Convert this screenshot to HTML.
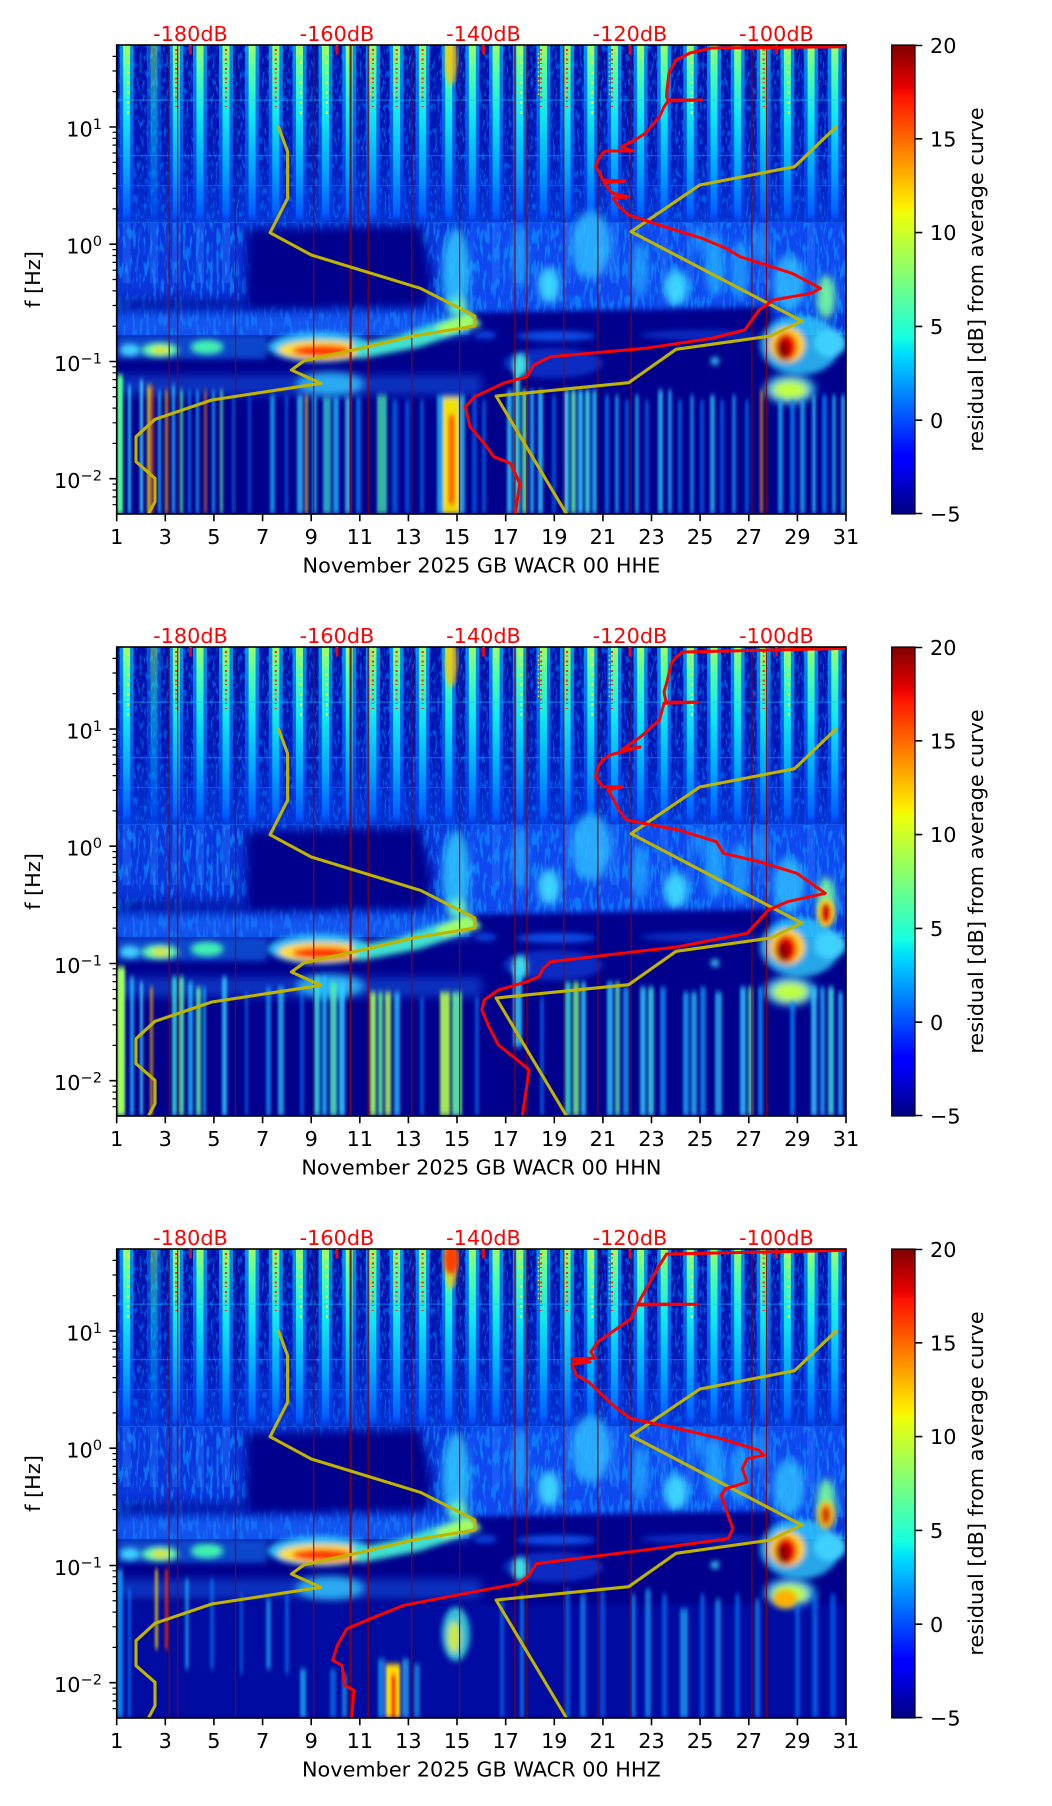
<!DOCTYPE html>
<html><head><meta charset="utf-8"><style>
html,body{margin:0;padding:0;background:#fff;}
svg{display:block;}
text{font-family:"DejaVu Sans","Liberation Sans",sans-serif;font-size:20.8px;fill:#000;}
.r{fill:#ff0000;}
</style></head><body>
<svg xmlns="http://www.w3.org/2000/svg" xmlns:xlink="http://www.w3.org/1999/xlink" width="1052" height="1806" viewBox="0 0 1052 1806">
<defs>
<clipPath id="cp"><rect x="116.7" y="0" width="729.3" height="469"/></clipPath>
<filter id="nz" x="0" y="0" width="100%" height="100%" color-interpolation-filters="sRGB">
<feTurbulence type="fractalNoise" baseFrequency="0.45 0.12" numOctaves="2" seed="5"/>
<feColorMatrix type="matrix" values="0 0 0 0 0  0 0 0 0 0.5  0 0 0 0 1  6 0 0 0 -3.1"/>
<feComposite in2="SourceAlpha" operator="in"/>
</filter>
<filter id="nz2" x="0" y="0" width="100%" height="100%" color-interpolation-filters="sRGB">
<feTurbulence type="fractalNoise" baseFrequency="0.3 0.06" numOctaves="2" seed="11"/>
<feColorMatrix type="matrix" values="0 0 0 0 0.05  0 0 0 0 0.6  0 0 0 0 1  6 0 0 0 -3.0"/>
<feComposite in2="SourceAlpha" operator="in"/>
</filter>
<filter id="b2" x="-50%" y="-50%" width="200%" height="200%"><feGaussianBlur stdDeviation="2"/></filter>
<filter id="b3" x="-50%" y="-50%" width="200%" height="200%"><feGaussianBlur stdDeviation="3"/></filter>
<filter id="b4" x="-50%" y="-50%" width="200%" height="200%"><feGaussianBlur stdDeviation="4"/></filter>
<filter id="b5" x="-50%" y="-50%" width="200%" height="200%"><feGaussianBlur stdDeviation="5"/></filter>
<filter id="b7" x="-50%" y="-50%" width="200%" height="200%"><feGaussianBlur stdDeviation="7"/></filter>
<filter id="bh" x="-5%" y="-5%" width="110%" height="110%"><feGaussianBlur stdDeviation="1.2 3"/></filter>
<linearGradient id="gU" x1="0" y1="0" x2="0" y2="1">
<stop offset="0" stop-color="#0010a8"/><stop offset="0.6" stop-color="#0018b8"/><stop offset="1" stop-color="#0634d4"/>
</linearGradient>
<linearGradient id="gE" x1="0" y1="0" x2="0" y2="1">
<stop offset="0" stop-color="#00b4ff"/><stop offset="0.45" stop-color="#0070ff"/><stop offset="0.85" stop-color="#0040f0"/><stop offset="1" stop-color="#0038e0" stop-opacity="0.4"/>
</linearGradient>
<linearGradient id="gC" x1="0" y1="0" x2="0" y2="1">
<stop offset="0" stop-color="#a0ff60"/><stop offset="0.15" stop-color="#50ffa8"/><stop offset="0.4" stop-color="#10e8f0"/><stop offset="0.7" stop-color="#00a8ff"/><stop offset="0.95" stop-color="#0060ff"/><stop offset="1" stop-color="#0050ff" stop-opacity="0.3"/>
</linearGradient>
<linearGradient id="jet" x1="0" y1="1" x2="0" y2="0">
<stop offset="0" stop-color="#000080"/><stop offset="0.11" stop-color="#0000ff"/><stop offset="0.125" stop-color="#0000ff"/><stop offset="0.34" stop-color="#00dbff"/><stop offset="0.35" stop-color="#00e5f7"/><stop offset="0.375" stop-color="#14ffe2"/><stop offset="0.5" stop-color="#7bff7b"/><stop offset="0.64" stop-color="#eeff08"/><stop offset="0.66" stop-color="#ffec00"/><stop offset="0.89" stop-color="#ff1300"/><stop offset="0.91" stop-color="#e80000"/><stop offset="1" stop-color="#800000"/>
</linearGradient>
<g id="s"><rect x="-7" y="0" width="14" height="178" fill="url(#gE)" opacity=".8"/><rect x="-3.5" y="0" width="7" height="176" fill="url(#gC)"/></g>
<g id="sr"><line x1="0" y1="4" x2="0" y2="62" stroke="#ff2a00" stroke-width="2.2" stroke-dasharray="2 2.5 1 4"/><line x1="-2.5" y1="8" x2="-2.5" y2="50" stroke="#ffd000" stroke-width="1.5" stroke-dasharray="1.5 3"/></g>
<g id="sy"><line x1="1.5" y1="6" x2="1.5" y2="70" stroke="#f0f020" stroke-width="2" stroke-dasharray="3 3 1 3"/></g>
<rect id="m" x="-4" y="178" width="8" height="60" fill="#2a80ff" opacity=".35"/>
<g id="base">
<rect x="116.7" y="0" width="729.3" height="469" fill="#00008c"/>
<rect x="116.7" y="0" width="729.3" height="180" fill="url(#gU)"/>
<rect x="116.7" y="0" width="729.3" height="180" fill="#000" filter="url(#nz)" opacity=".55"/>
<use href="#s" x="126.6"/><use href="#s" x="154" opacity=".5"/><use href="#s" x="176.3"/><use href="#s" x="200"/><use href="#s" x="226"/><use href="#s" x="252.1"/><use href="#s" x="275.8"/><use href="#s" x="299.5"/><use href="#s" x="325.5"/><use href="#s" x="349.2"/><use href="#s" x="372.9"/><use href="#s" x="396.6"/><use href="#s" x="422.6"/><use href="#s" x="448.7"/><use href="#s" x="472.4"/><use href="#s" x="496.1"/><use href="#s" x="519.8"/><use href="#s" x="543.5"/><use href="#s" x="567.1"/><use href="#s" x="590.8"/><use href="#s" x="614.5"/><use href="#s" x="640.6"/><use href="#s" x="664.2"/><use href="#s" x="690.3"/><use href="#s" x="714"/><use href="#s" x="737.7"/><use href="#s" x="763.7"/><use href="#s" x="787.4"/><use href="#s" x="811.1"/><use href="#s" x="834.8"/>
<use href="#sr" x="176.3"/><use href="#sr" x="226"/><use href="#sr" x="275.8"/><use href="#sr" x="372.9"/><use href="#sr" x="396.6"/><use href="#sr" x="422.6"/><use href="#sr" x="541"/><use href="#sr" x="567"/><use href="#sr" x="612"/><use href="#sr" x="763.7"/>
<use href="#sy" x="126.6"/><use href="#sy" x="299.5"/><use href="#sy" x="325.5"/><use href="#sy" x="519.8"/><use href="#sy" x="590.8"/><use href="#sy" x="690.3"/><use href="#sy" x="787.4"/>
<ellipse cx="451" cy="16" rx="6" ry="24" fill="#ffc000" opacity=".8" filter="url(#b2)"/>
<rect x="116.7" y="54.5" width="729.3" height="1.3" fill="#20c0ff" opacity=".45"/>
<rect x="116.7" y="110" width="729.3" height="1.3" fill="#20a0ff" opacity=".45"/>
<rect x="116.7" y="140" width="729.3" height="1.2" fill="#2090ff" opacity=".35"/>
<rect x="116.7" y="177" width="729.3" height="1.5" fill="#2080ff" opacity=".4"/>
<!-- mid region -->
<rect x="116.7" y="178" width="729.3" height="112" fill="#0a36dc"/>
<rect x="470" y="178" width="376" height="90" fill="#1048f0"/>
<rect x="116.7" y="178" width="729.3" height="112" fill="#000" filter="url(#nz2)" opacity=".6"/>
<use href="#m" x="126.6"/><use href="#m" x="154"/><use href="#m" x="176.3"/><use href="#m" x="200"/><use href="#m" x="226"/><use href="#m" x="496.1"/><use href="#m" x="519.8"/><use href="#m" x="567.1"/><use href="#m" x="614.5"/><use href="#m" x="664.2"/><use href="#m" x="690.3"/><use href="#m" x="714"/><use href="#m" x="763.7"/><use href="#m" x="811.1"/>
<!-- left dark region -->
<polygon points="246,184 420,180 432,230 428,262 246,266" fill="#00008c" filter="url(#b5)"/>
<rect x="116.7" y="252" width="130" height="16" fill="#000a98" opacity=".6" filter="url(#b4)"/>
<!-- haze under -->
<rect x="116.7" y="268" width="360" height="24" fill="#1a70ff" opacity=".55" filter="url(#b5)"/>
<!-- cyan patches -->
<g filter="url(#b4)">
<ellipse cx="456" cy="228" rx="14" ry="45" fill="#30c8ff" opacity=".85"/>
<ellipse cx="458" cy="262" rx="10" ry="10" fill="#60f0c0"/>
<ellipse cx="520" cy="212" rx="8" ry="32" fill="#20a8ff" opacity=".7"/>
<ellipse cx="549" cy="240" rx="11" ry="18" fill="#40e0ff" opacity=".9"/>
<ellipse cx="591" cy="200" rx="20" ry="34" fill="#30c0ff" opacity=".8"/>
<ellipse cx="640" cy="225" rx="9" ry="28" fill="#20a8ff" opacity=".75"/>
<ellipse cx="676" cy="243" rx="12" ry="18" fill="#40e0ff" opacity=".9"/>
<ellipse cx="715" cy="220" rx="10" ry="32" fill="#20b0ff" opacity=".75"/>
<ellipse cx="740" cy="225" rx="9" ry="30" fill="#20a8ff" opacity=".75"/>
<ellipse cx="789" cy="238" rx="16" ry="28" fill="#30c0ff" opacity=".8"/>
<ellipse cx="826" cy="252" rx="9" ry="22" fill="#70f0a0"/>
<ellipse cx="700" cy="195" rx="8" ry="15" fill="#20a0ff" opacity=".6"/>
<ellipse cx="760" cy="200" rx="8" ry="18" fill="#20a0ff" opacity=".6"/>
</g>
<polygon points="470,268 772,262 775,300 470,302" fill="#00008c" filter="url(#b3)"/>
<!-- band blobs -->
<g filter="url(#b3)">
<rect x="116.7" y="292" width="150" height="22" fill="#1080ff" opacity=".55"/>
<ellipse cx="160" cy="305" rx="18" ry="7" fill="#60ffa0"/>
<ellipse cx="160" cy="305" rx="8" ry="4" fill="#e0e000"/>
<ellipse cx="207" cy="302" rx="16" ry="7" fill="#40f0b0"/>
<ellipse cx="130" cy="305" rx="10" ry="6" fill="#40d0ff"/>
<ellipse cx="320" cy="302" rx="52" ry="15" fill="#30d0ff" opacity=".9"/>
<ellipse cx="322" cy="305" rx="44" ry="10" fill="#ffe030"/>
<ellipse cx="322" cy="306" rx="30" ry="6" fill="#ff3000"/>
<polygon points="350,300 400,290 470,266 482,280 420,302 360,314" fill="#40e0d0"/>
<polygon points="435,282 470,268 480,280 445,290" fill="#a0ff60"/>
<ellipse cx="556" cy="291" rx="40" ry="5" fill="#1060ff" opacity=".8"/>
<ellipse cx="485" cy="290" rx="12" ry="4" fill="#1060ff" opacity=".7"/>
<ellipse cx="700" cy="290" rx="60" ry="5" fill="#1060ff" opacity=".45"/>
<ellipse cx="553" cy="318" rx="50" ry="15" fill="#1050f0" opacity=".55"/>
<ellipse cx="520" cy="320" rx="7" ry="12" fill="#40e0e0"/>
<ellipse cx="800" cy="300" rx="40" ry="30" fill="#30d0ff" opacity=".8"/>
<ellipse cx="787" cy="300" rx="18" ry="18" fill="#ffd020"/>
<ellipse cx="786" cy="302" rx="11" ry="14" fill="#e80000"/>
<ellipse cx="783" cy="305" rx="6" ry="10" fill="#8a0000"/>
<ellipse cx="830" cy="298" rx="16" ry="14" fill="#40d0ff"/>
<circle cx="715" cy="316" r="4" fill="#40e0ff"/>
</g>
<!-- low light band -->
<rect x="116.7" y="330" width="365" height="20" fill="#1a70ff" opacity=".45" filter="url(#b5)"/>
<g filter="url(#b4)">
<ellipse cx="330" cy="339" rx="34" ry="12" fill="#30c8ff" opacity=".8"/>
<ellipse cx="790" cy="344" rx="26" ry="15" fill="#30d0ff" opacity=".8"/>
<ellipse cx="790" cy="345" rx="18" ry="10" fill="#c0ff40"/>
</g>
</g>
<g id="dl" stroke="#900000" stroke-width="1.2" opacity=".9">
<line x1="169.2" y1="0" x2="169.2" y2="469"/><line x1="177.7" y1="0" x2="177.7" y2="469"/><line x1="235.5" y1="0" x2="235.5" y2="469"/><line x1="313.7" y1="0" x2="313.7" y2="469"/><line x1="350.6" y1="0" x2="350.6" y2="469" stroke-width="2.2"/><line x1="368.2" y1="0" x2="368.2" y2="469"/><line x1="411.8" y1="0" x2="411.8" y2="469"/><line x1="459.6" y1="0" x2="459.6" y2="469"/><line x1="515" y1="0" x2="515" y2="469"/><line x1="526.9" y1="0" x2="526.9" y2="469"/><line x1="563.8" y1="0" x2="563.8" y2="469"/><line x1="597.9" y1="0" x2="597.9" y2="469"/><line x1="631.1" y1="0" x2="631.1" y2="469"/><line x1="751.9" y1="0" x2="751.9" y2="469"/><line x1="766.5" y1="0" x2="766.5" y2="469"/>
</g>
<g id="yc" fill="none" stroke="#bfb400" stroke-width="3.1" stroke-linejoin="round">
<polyline points="278.2,81 287.6,106.7 287.6,153.3 270.1,187.7 311.3,210 420.3,243.3 474.8,271 474.8,281 413.2,291 361.1,303.3 304.2,315.7 291.4,325 320.8,338.3 211.8,355 155,374.3 136,391.7 136,416.7 155,433.3 155,456.7 147.9,470"/>
<polyline points="837.1,81 794.5,121.7 699.8,140 631.1,186.7 801.6,276 770.8,291 676.1,304.3 628.7,337.7 496.1,351 567.1,470"/>
</g>
<g id="ax">
<rect x="116.7" y="0" width="729.3" height="469" fill="none" stroke="#000" stroke-width="1.6"/>
<path d="M116.7 469V476.3M165.3 469V476.3M213.9 469V476.3M262.6 469V476.3M311.2 469V476.3M359.8 469V476.3M408.4 469V476.3M457 469V476.3M505.7 469V476.3M554.3 469V476.3M602.9 469V476.3M651.5 469V476.3M700.1 469V476.3M748.8 469V476.3M797.4 469V476.3M846 469V476.3M109.4 82H116.7M109.4 199.2H116.7M109.4 316.5H116.7M109.4 433.7H116.7" stroke="#000" stroke-width="1.6"/>
<path d="M112.5 459.7H116.7M112.5 451.9H116.7M112.5 445.1H116.7M112.5 439.1H116.7M112.5 398.4H116.7M112.5 377.8H116.7M112.5 363.1H116.7M112.5 351.75H116.7M112.5 342.5H116.7M112.5 334.6H116.7M112.5 327.8H116.7M112.5 321.8H116.7M112.5 281.2H116.7M112.5 260.5H116.7M112.5 245.9H116.7M112.5 234.5H116.7M112.5 225.2H116.7M112.5 217.4H116.7M112.5 210.5H116.7M112.5 204.6H116.7M112.5 163.9H116.7M112.5 143.3H116.7M112.5 128.6H116.7M112.5 117.3H116.7M112.5 108H116.7M112.5 100.1H116.7M112.5 93.3H116.7M112.5 87.3H116.7M112.5 46.7H116.7M112.5 26H116.7M112.5 11.4H116.7" stroke="#000" stroke-width="1.2"/>
<path d="M190.5 0V9.5M337 0V9.5M483.5 0V9.5M630 0V9.5M776.5 0V9.5" stroke="#ff0000" stroke-width="2.7"/>
<rect x="891.7" y="0" width="23.3" height="469" fill="url(#jet)" stroke="#000" stroke-width="1.2"/>
<path d="M915 0.5H922.3M915 93.8H922.3M915 187.6H922.3M915 281.4H922.3M915 375.2H922.3M915 468.5H922.3" stroke="#000" stroke-width="1.6"/>
</g>
</defs>

<!-- ================= PANEL 1 ================= -->
<g transform="translate(0,45)">
<g clip-path="url(#cp)">
<use href="#base"/>
<g filter="url(#bh)">
<rect x="117" y="330" width="6" height="139" fill="#50ff90"/>
<rect x="128" y="340" width="3" height="129" fill="#20d0ff" opacity=".9"/>
<rect x="140" y="335" width="3" height="134" fill="#40e0ff" opacity=".9"/>
<rect x="147" y="340" width="4" height="129" fill="#ffd000" opacity=".8"/>
<rect x="152" y="340" width="2" height="129" fill="#ff3000" opacity=".8"/>
<rect x="158" y="345" width="3" height="124" fill="#20c0ff" opacity=".8"/>
<rect x="165" y="345" width="3" height="124" fill="#ffb000" opacity=".7"/>
<rect x="172" y="340" width="3" height="129" fill="#20d0ff" opacity=".8"/>
<rect x="180" y="345" width="3" height="124" fill="#40ffa0" opacity=".8"/>
<rect x="188" y="345" width="3" height="124" fill="#0090ff" opacity=".7"/>
<rect x="196" y="345" width="3" height="124" fill="#20c0ff" opacity=".7"/>
<rect x="204" y="345" width="3" height="124" fill="#ff8000" opacity=".6"/>
<rect x="212" y="345" width="3" height="124" fill="#20c0ff" opacity=".7"/>
<rect x="220" y="345" width="3" height="124" fill="#60ffa0" opacity=".7"/>
<rect x="232" y="350" width="3" height="119" fill="#0080ff" opacity=".6"/>
<rect x="248" y="350" width="3" height="119" fill="#0070ff" opacity=".6"/>
<rect x="270" y="350" width="5" height="119" fill="#20c0ff" opacity=".7"/>
<rect x="285" y="350" width="3" height="119" fill="#0080ff" opacity=".6"/>
<rect x="297" y="350" width="6" height="119" fill="#30d0ff" opacity=".75"/>
<rect x="305" y="350" width="3" height="119" fill="#ffd000" opacity=".7"/>
<rect x="312" y="350" width="5" height="119" fill="#20c0ff" opacity=".7"/>
<rect x="323" y="352" width="8" height="117" fill="#30d8d0" opacity=".75"/>
<rect x="333" y="352" width="6" height="117" fill="#20c0ff" opacity=".75"/>
<rect x="345" y="352" width="6" height="117" fill="#40e0ff" opacity=".7"/>
<rect x="356" y="352" width="5" height="117" fill="#0090ff" opacity=".7"/>
<rect x="377" y="350" width="10" height="119" fill="#40e0b0" opacity=".8"/>
<rect x="392" y="355" width="6" height="114" fill="#0080ff" opacity=".6"/>
<rect x="405" y="355" width="5" height="114" fill="#0070ff" opacity=".6"/>
<rect x="420" y="355" width="4" height="114" fill="#0080ff" opacity=".6"/>
<rect x="437" y="350" width="28" height="119" fill="#20c0ff" opacity=".8"/>
<rect x="443" y="352" width="16" height="117" fill="#f0e000"/>
<rect x="448" y="370" width="7" height="90" fill="#ff7000"/>
<rect x="472" y="350" width="5" height="119" fill="#0070ff" opacity=".6"/>
<rect x="482" y="355" width="4" height="114" fill="#0080ff" opacity=".6"/>
<rect x="507" y="345" width="5" height="124" fill="#30d0ff" opacity=".8"/>
<rect x="514" y="320" width="6" height="149" fill="#40e0e0" opacity=".85"/>
<rect x="522" y="345" width="5" height="124" fill="#60ffa0" opacity=".8"/>
<rect x="530" y="345" width="4" height="124" fill="#20c0ff" opacity=".8"/>
<rect x="538" y="345" width="5" height="124" fill="#30d0ff" opacity=".8"/>
<rect x="552" y="350" width="4" height="119" fill="#0080ff" opacity=".6"/>
<rect x="564" y="345" width="5" height="124" fill="#40e0ff" opacity=".85"/>
<rect x="571" y="345" width="5" height="124" fill="#60ffa0" opacity=".8"/>
<rect x="578" y="345" width="5" height="124" fill="#30d0ff" opacity=".85"/>
<rect x="585" y="345" width="5" height="124" fill="#40e0e0" opacity=".85"/>
<rect x="592" y="345" width="5" height="124" fill="#20c0ff" opacity=".8"/>
<rect x="605" y="350" width="4" height="119" fill="#0090ff" opacity=".7"/>
<rect x="615" y="350" width="4" height="119" fill="#20b0ff" opacity=".7"/>
<rect x="625" y="355" width="4" height="114" fill="#0080ff" opacity=".6"/>
<rect x="635" y="350" width="4" height="119" fill="#20c0ff" opacity=".7"/>
<rect x="645" y="355" width="4" height="114" fill="#0080ff" opacity=".6"/>
<rect x="658" y="345" width="5" height="124" fill="#30d0ff" opacity=".75"/>
<rect x="668" y="345" width="4" height="124" fill="#20c0ff" opacity=".7"/>
<rect x="678" y="355" width="4" height="114" fill="#0090ff" opacity=".6"/>
<rect x="690" y="350" width="4" height="119" fill="#20b0ff" opacity=".65"/>
<rect x="700" y="355" width="4" height="114" fill="#0080ff" opacity=".6"/>
<rect x="710" y="350" width="5" height="119" fill="#30d0ff" opacity=".7"/>
<rect x="720" y="355" width="4" height="114" fill="#0080ff" opacity=".6"/>
<rect x="732" y="350" width="4" height="119" fill="#20b0ff" opacity=".65"/>
<rect x="745" y="355" width="4" height="114" fill="#0080ff" opacity=".6"/>
<rect x="760" y="345" width="3" height="124" fill="#ffa000" opacity=".7"/>
<rect x="778" y="355" width="5" height="114" fill="#20c0ff" opacity=".7"/>
<rect x="790" y="355" width="5" height="114" fill="#0090ff" opacity=".7"/>
<rect x="800" y="355" width="5" height="114" fill="#20c0ff" opacity=".7"/>
<rect x="812" y="350" width="4" height="119" fill="#30d0ff" opacity=".7"/>
<rect x="822" y="350" width="5" height="119" fill="#0090ff" opacity=".7"/>
<rect x="832" y="350" width="4" height="119" fill="#20c0ff" opacity=".7"/>
<rect x="841" y="350" width="4" height="119" fill="#30d0ff" opacity=".7"/>
</g>
<use href="#dl"/>
<use href="#yc"/>
<polyline fill="none" stroke="#ff0000" stroke-width="3" stroke-linejoin="round" points="849,1.7 711.6,3 690,8 676,15 669,28 667,45 666.6,52 668,55 702,55 668,56 664,62 659.5,71.7 645.3,88.3 635,95 621.6,101.7 633,106 606,106 602.7,108.3 598,115 595.5,121.7 600,128 602.7,135 625,136 604,138 612,148 628,152 613,153 619,161.7 628.7,170 664.2,181.7 702,193.3 725.8,203.3 740,211.7 792,228.3 820.5,243.3 811,248.3 773.2,255 759,265 744.8,285 711.6,293.3 645.3,303.3 550.6,311.7 534,320 526.9,331.7 503.2,338.3 474.8,351.7 465.3,361.7 470,381.7 484.2,398.3 493.7,411.7 510.3,418.3 519.8,438.3 515,470"/>
</g>
<use href="#ax"/>
<text class="r" x="190.5" y="-4" text-anchor="middle">-180dB</text><text class="r" x="337" y="-4" text-anchor="middle">-160dB</text><text class="r" x="483.5" y="-4" text-anchor="middle">-140dB</text><text class="r" x="630" y="-4" text-anchor="middle">-120dB</text><text class="r" x="776.5" y="-4" text-anchor="middle">-100dB</text>
<g text-anchor="middle"><text x="116.7" y="499">1</text><text x="165.3" y="499">3</text><text x="213.9" y="499">5</text><text x="262.6" y="499">7</text><text x="311.2" y="499">9</text><text x="359.8" y="499">11</text><text x="408.4" y="499">13</text><text x="457" y="499">15</text><text x="505.7" y="499">17</text><text x="554.3" y="499">19</text><text x="602.9" y="499">21</text><text x="651.5" y="499">23</text><text x="700.1" y="499">25</text><text x="748.8" y="499">27</text><text x="797.4" y="499">29</text><text x="846" y="499">31</text></g>
<text x="481.4" y="527.5" text-anchor="middle">November 2025 GB WACR 00 HHE</text>
<g text-anchor="end"><text x="102" y="91.3">10<tspan font-size="14.6" dy="-7.5">1</tspan></text><text x="102" y="208.5">10<tspan font-size="14.6" dy="-7.5">0</tspan></text><text x="102" y="325.8">10<tspan font-size="14.6" dy="-7.5">−1</tspan></text><text x="102" y="443">10<tspan font-size="14.6" dy="-7.5">−2</tspan></text></g>
<text transform="translate(40,234.5) rotate(-90)" text-anchor="middle">f [Hz]</text>
<text x="930" y="8">20</text><text x="930" y="101.4">15</text><text x="930" y="195.2">10</text><text x="930" y="289">5</text><text x="930" y="382.8">0</text><text x="930" y="476.6">−5</text>
<text transform="translate(983,234.5) rotate(-90)" text-anchor="middle">residual [dB] from average curve</text>
</g>

<!-- ================= PANEL 2 ================= -->
<g transform="translate(0,647)">
<g clip-path="url(#cp)">
<use href="#base"/>
<g filter="url(#bh)">
<rect x="117" y="320" width="8" height="149" fill="#a0ff60"/>
<rect x="130" y="330" width="4" height="139" fill="#20c0ff" opacity=".8"/>
<rect x="140" y="335" width="3" height="134" fill="#40e0ff" opacity=".8"/>
<rect x="150" y="340" width="3" height="129" fill="#ffb000" opacity=".7"/>
<rect x="172" y="330" width="5" height="139" fill="#30e0d0" opacity=".85"/>
<rect x="179" y="330" width="5" height="139" fill="#60ffa0" opacity=".8"/>
<rect x="188" y="335" width="5" height="134" fill="#20c0ff" opacity=".8"/>
<rect x="196" y="340" width="5" height="129" fill="#60ffa0" opacity=".8"/>
<rect x="203" y="340" width="3" height="129" fill="#20c0ff" opacity=".7"/>
<rect x="222" y="330" width="5" height="139" fill="#30d0ff" opacity=".8"/>
<rect x="245" y="345" width="3" height="124" fill="#0080ff" opacity=".6"/>
<rect x="266" y="340" width="5" height="129" fill="#10a0ff" opacity=".7"/>
<rect x="278" y="340" width="6" height="129" fill="#30d0ff" opacity=".7"/>
<rect x="300" y="345" width="4" height="124" fill="#0080ff" opacity=".6"/>
<rect x="314" y="330" width="6" height="139" fill="#30e0e0" opacity=".85"/>
<rect x="322" y="330" width="5" height="139" fill="#20c0ff" opacity=".8"/>
<rect x="330" y="335" width="7" height="134" fill="#50f0b0" opacity=".85"/>
<rect x="339" y="335" width="6" height="134" fill="#30d0ff" opacity=".85"/>
<rect x="370" y="345" width="6" height="124" fill="#a0ff60" opacity=".9"/>
<rect x="378" y="345" width="5" height="124" fill="#60f0a0" opacity=".85"/>
<rect x="385" y="345" width="6" height="124" fill="#b0ff50" opacity=".85"/>
<rect x="394" y="345" width="6" height="124" fill="#20c0ff" opacity=".8"/>
<rect x="420" y="350" width="4" height="119" fill="#0080ff" opacity=".6"/>
<rect x="440" y="345" width="10" height="124" fill="#b0ff50" opacity=".9"/>
<rect x="452" y="345" width="10" height="124" fill="#60f0a0" opacity=".9"/>
<rect x="475" y="350" width="4" height="119" fill="#0080ff" opacity=".6"/>
<rect x="513" y="320" width="9" height="80" fill="#30d0ff" opacity=".8"/>
<rect x="540" y="350" width="4" height="119" fill="#0080ff" opacity=".6"/>
<rect x="565" y="335" width="6" height="134" fill="#30e0d0" opacity=".85"/>
<rect x="573" y="335" width="6" height="134" fill="#80ff80" opacity=".8"/>
<rect x="581" y="335" width="5" height="134" fill="#30d0ff" opacity=".8"/>
<rect x="607" y="335" width="6" height="134" fill="#30d0ff" opacity=".8"/>
<rect x="615" y="335" width="5" height="134" fill="#60f0b0" opacity=".75"/>
<rect x="623" y="340" width="6" height="129" fill="#20b0ff" opacity=".7"/>
<rect x="640" y="340" width="6" height="129" fill="#30d0ff" opacity=".8"/>
<rect x="648" y="340" width="6" height="129" fill="#40e0e0" opacity=".8"/>
<rect x="660" y="340" width="6" height="129" fill="#10a0ff" opacity=".7"/>
<rect x="683" y="345" width="6" height="124" fill="#20c0ff" opacity=".7"/>
<rect x="691" y="345" width="6" height="124" fill="#30d0ff" opacity=".7"/>
<rect x="700" y="340" width="6" height="129" fill="#10a0ff" opacity=".7"/>
<rect x="715" y="345" width="7" height="124" fill="#30d0ff" opacity=".7"/>
<rect x="740" y="340" width="6" height="129" fill="#30d0ff" opacity=".8"/>
<rect x="748" y="340" width="5" height="129" fill="#60f0b0" opacity=".75"/>
<rect x="758" y="340" width="5" height="129" fill="#10a0ff" opacity=".7"/>
<rect x="790" y="355" width="5" height="114" fill="#0090ff" opacity=".7"/>
<rect x="811" y="340" width="6" height="129" fill="#30d0ff" opacity=".8"/>
<rect x="820" y="340" width="5" height="129" fill="#20b0ff" opacity=".75"/>
<rect x="828" y="340" width="6" height="129" fill="#40e0e0" opacity=".8"/>
<rect x="838" y="345" width="5" height="124" fill="#20c0ff" opacity=".75"/>
</g>
<g filter="url(#b2)"><ellipse cx="826" cy="266" rx="9" ry="14" fill="#ffd020"/><ellipse cx="826" cy="266" rx="5" ry="10" fill="#d00000"/></g>
<use href="#dl"/>
<use href="#yc"/>
<polyline fill="none" stroke="#ff0000" stroke-width="3" stroke-linejoin="round" points="849,1.3 683.2,5 676,10 671.4,16.3 666.6,36.3 664,45 666,55 697.4,55.3 664,56.3 659.5,73 640.6,89.7 621.6,103 640,100 610,108 602.7,113 598,120 595.5,129.7 602.7,139.7 622,140 608,143 612,149.7 619,163 626.3,173 678.4,183 716.4,194.7 723.5,206.3 759,214.7 796.9,226.3 825.3,246.3 787.4,254.7 768.5,263 747.1,286.3 678.4,299.7 550.6,314.7 543.5,321.3 538.7,329.7 526.9,334.7 498.4,343 484.2,353 481.9,363 489,379.7 498.4,398 517.4,413 529.2,423 522.1,470"/>
</g>
<use href="#ax"/>
<text class="r" x="190.5" y="-4" text-anchor="middle">-180dB</text><text class="r" x="337" y="-4" text-anchor="middle">-160dB</text><text class="r" x="483.5" y="-4" text-anchor="middle">-140dB</text><text class="r" x="630" y="-4" text-anchor="middle">-120dB</text><text class="r" x="776.5" y="-4" text-anchor="middle">-100dB</text>
<g text-anchor="middle"><text x="116.7" y="499">1</text><text x="165.3" y="499">3</text><text x="213.9" y="499">5</text><text x="262.6" y="499">7</text><text x="311.2" y="499">9</text><text x="359.8" y="499">11</text><text x="408.4" y="499">13</text><text x="457" y="499">15</text><text x="505.7" y="499">17</text><text x="554.3" y="499">19</text><text x="602.9" y="499">21</text><text x="651.5" y="499">23</text><text x="700.1" y="499">25</text><text x="748.8" y="499">27</text><text x="797.4" y="499">29</text><text x="846" y="499">31</text></g>
<text x="481.4" y="527.5" text-anchor="middle">November 2025 GB WACR 00 HHN</text>
<g text-anchor="end"><text x="102" y="91.3">10<tspan font-size="14.6" dy="-7.5">1</tspan></text><text x="102" y="208.5">10<tspan font-size="14.6" dy="-7.5">0</tspan></text><text x="102" y="325.8">10<tspan font-size="14.6" dy="-7.5">−1</tspan></text><text x="102" y="443">10<tspan font-size="14.6" dy="-7.5">−2</tspan></text></g>
<text transform="translate(40,234.5) rotate(-90)" text-anchor="middle">f [Hz]</text>
<text x="930" y="8">20</text><text x="930" y="101.4">15</text><text x="930" y="195.2">10</text><text x="930" y="289">5</text><text x="930" y="382.8">0</text><text x="930" y="476.6">−5</text>
<text transform="translate(983,234.5) rotate(-90)" text-anchor="middle">residual [dB] from average curve</text>
</g>

<!-- ================= PANEL 3 ================= -->
<g transform="translate(0,1249)">
<g clip-path="url(#cp)">
<use href="#base"/>
<ellipse cx="451" cy="10" rx="7" ry="15" fill="#ff4000" filter="url(#b2)"/>
<rect x="116.7" y="355" width="729.3" height="114" fill="#0020c8" opacity=".35" filter="url(#b3)"/>
<g filter="url(#bh)">
<rect x="117" y="320" width="6" height="149" fill="#10a0ff" opacity=".8"/>
<rect x="128" y="340" width="3" height="129" fill="#0080ff" opacity=".7"/>
<rect x="155" y="320" width="3" height="80" fill="#ffd000" opacity=".8"/>
<rect x="165" y="320" width="3" height="80" fill="#ff3000" opacity=".8"/>
<rect x="185" y="330" width="4" height="90" fill="#20c0ff" opacity=".6"/>
<rect x="210" y="330" width="4" height="90" fill="#0080ff" opacity=".6"/>
<rect x="240" y="345" width="3" height="80" fill="#0080ff" opacity=".6"/>
<rect x="266" y="350" width="5" height="70" fill="#20c0ff" opacity=".6"/>
<rect x="285" y="345" width="4" height="80" fill="#0080ff" opacity=".6"/>
<rect x="300" y="420" width="6" height="49" fill="#20c0ff" opacity=".7"/>
<rect x="330" y="420" width="6" height="49" fill="#0090ff" opacity=".6"/>
<rect x="342" y="425" width="5" height="44" fill="#20b0ff" opacity=".6"/>
<rect x="378" y="410" width="7" height="59" fill="#20c0ff" opacity=".6"/>
<rect x="402" y="410" width="7" height="59" fill="#30d0ff" opacity=".6"/>
<rect x="414" y="415" width="6" height="54" fill="#20c0ff" opacity=".55"/>
<rect x="386" y="415" width="14" height="54" fill="#ffe000"/>
<rect x="391" y="425" width="5" height="44" fill="#ff4000"/>
<rect x="500" y="350" width="4" height="119" fill="#0080ff" opacity=".6"/>
<rect x="520" y="345" width="4" height="124" fill="#10a0ff" opacity=".6"/>
<rect x="565" y="340" width="5" height="129" fill="#0080ff" opacity=".6"/>
<rect x="580" y="345" width="6" height="124" fill="#10a0ff" opacity=".6"/>
<rect x="600" y="340" width="5" height="129" fill="#0070ff" opacity=".6"/>
<rect x="631" y="345" width="5" height="124" fill="#10a0ff" opacity=".6"/>
<rect x="645" y="340" width="6" height="129" fill="#20b0ff" opacity=".6"/>
<rect x="662" y="345" width="5" height="124" fill="#0080ff" opacity=".6"/>
<rect x="680" y="360" width="8" height="109" fill="#20c0ff" opacity=".65"/>
<rect x="700" y="345" width="5" height="124" fill="#0080ff" opacity=".6"/>
<rect x="715" y="350" width="6" height="119" fill="#20b0ff" opacity=".6"/>
<rect x="735" y="345" width="5" height="124" fill="#0080ff" opacity=".6"/>
<rect x="755" y="350" width="5" height="119" fill="#10a0ff" opacity=".6"/>
<rect x="795" y="355" width="5" height="114" fill="#0080ff" opacity=".6"/>
<rect x="812" y="345" width="6" height="124" fill="#0080ff" opacity=".6"/>
<rect x="830" y="345" width="6" height="124" fill="#0070ff" opacity=".6"/>
</g>
<g filter="url(#b3)">
<ellipse cx="456" cy="385" rx="14" ry="27" fill="#40e0e0" opacity=".85"/>
<ellipse cx="454" cy="388" rx="6" ry="16" fill="#e0f020" opacity=".9"/>
<ellipse cx="785" cy="350" rx="12" ry="9" fill="#ffb000"/>
<ellipse cx="826" cy="266" rx="9" ry="14" fill="#ffd020"/>
<ellipse cx="826" cy="266" rx="5" ry="10" fill="#d00000"/>
</g>
<use href="#dl"/>
<use href="#yc"/>
<polyline fill="none" stroke="#ff0000" stroke-width="3" stroke-linejoin="round" points="849,1.3 666.6,5 659.5,16.3 650,33 640.6,49.7 638,55 697.4,55.3 637,56 635.8,59.7 631.1,69.7 612.1,83 597.9,93 590.8,103 595,109 572,110 590,113 571.9,115 576.6,126.3 588.5,133 602.7,146.3 616.9,159.7 631.1,169.7 678.4,179.7 721.1,189.7 759,201.3 763.7,206.3 747.1,209.7 742.4,219.7 747.1,233 725.8,239.7 721.1,246.3 725.8,259.7 732.9,279.7 728.2,289.7 654.8,299.7 536.3,314.7 529.2,326.3 517.4,334.7 455.8,346.3 403.7,356.3 370.5,369.7 346.9,379.7 337.4,396.3 332.6,411.3 342.1,416.3 344.5,436.3 354,441.3 351.6,470"/>
</g>
<use href="#ax"/>
<text class="r" x="190.5" y="-4" text-anchor="middle">-180dB</text><text class="r" x="337" y="-4" text-anchor="middle">-160dB</text><text class="r" x="483.5" y="-4" text-anchor="middle">-140dB</text><text class="r" x="630" y="-4" text-anchor="middle">-120dB</text><text class="r" x="776.5" y="-4" text-anchor="middle">-100dB</text>
<g text-anchor="middle"><text x="116.7" y="499">1</text><text x="165.3" y="499">3</text><text x="213.9" y="499">5</text><text x="262.6" y="499">7</text><text x="311.2" y="499">9</text><text x="359.8" y="499">11</text><text x="408.4" y="499">13</text><text x="457" y="499">15</text><text x="505.7" y="499">17</text><text x="554.3" y="499">19</text><text x="602.9" y="499">21</text><text x="651.5" y="499">23</text><text x="700.1" y="499">25</text><text x="748.8" y="499">27</text><text x="797.4" y="499">29</text><text x="846" y="499">31</text></g>
<text x="481.4" y="527.5" text-anchor="middle">November 2025 GB WACR 00 HHZ</text>
<g text-anchor="end"><text x="102" y="91.3">10<tspan font-size="14.6" dy="-7.5">1</tspan></text><text x="102" y="208.5">10<tspan font-size="14.6" dy="-7.5">0</tspan></text><text x="102" y="325.8">10<tspan font-size="14.6" dy="-7.5">−1</tspan></text><text x="102" y="443">10<tspan font-size="14.6" dy="-7.5">−2</tspan></text></g>
<text transform="translate(40,234.5) rotate(-90)" text-anchor="middle">f [Hz]</text>
<text x="930" y="8">20</text><text x="930" y="101.4">15</text><text x="930" y="195.2">10</text><text x="930" y="289">5</text><text x="930" y="382.8">0</text><text x="930" y="476.6">−5</text>
<text transform="translate(983,234.5) rotate(-90)" text-anchor="middle">residual [dB] from average curve</text>
</g>
</svg>
</body></html>
